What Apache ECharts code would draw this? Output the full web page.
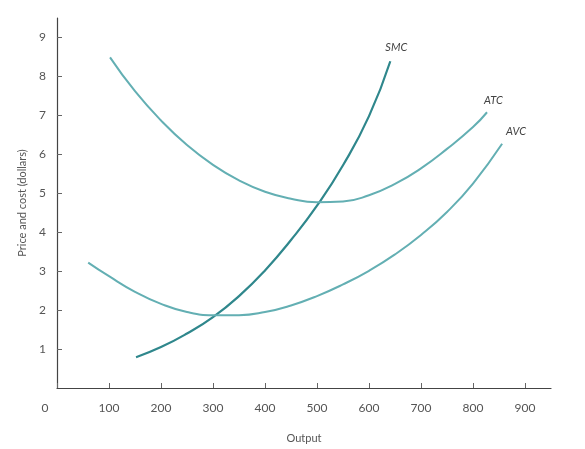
<!DOCTYPE html>
<html>
<head>
<meta charset="UTF-8">
<title>Cost curves</title>
<script src="https://cdn.jsdelivr.net/npm/echarts@6/dist/echarts.min.js"></script>
<style>
  html, body { margin: 0; padding: 0; background: #fff; }
  #main { width: 585px; height: 449px; }
</style>
</head>
<body>
<div id="main"></div>
<script>
// output levels and cost values
var smcOutput = [152, 200, 250, 300, 350, 400, 450, 500, 550, 600, 641];
var smcCost   = [0.79, 1.05, 1.40, 1.82, 2.36, 3.02, 3.80, 4.68, 5.72, 6.98, 8.39];

var atcOutput = [102, 150, 200, 250, 300, 350, 400, 450, 500, 550, 600, 650, 700, 750, 800, 827];
var atcCost   = [8.49, 7.62, 6.87, 6.24, 5.73, 5.33, 5.04, 4.86, 4.77, 4.79, 4.95, 5.24, 5.64, 6.14, 6.70, 7.08];

var avcOutput = [60, 100, 150, 200, 250, 300, 350, 400, 450, 500, 550, 600, 650, 700, 750, 800, 856];
var avcCost   = [3.22, 2.87, 2.47, 2.16, 1.95, 1.87, 1.87, 1.95, 2.12, 2.36, 2.66, 3.01, 3.43, 3.93, 4.52, 5.25, 6.27];

var curveNames = ['SMC', 'ATC', 'AVC'];

function pairs(xs, ys) {
  var out = [];
  for (var i = 0; i < xs.length; i++) out.push([xs[i], ys[i]]);
  return out;
}

var font = 'Lato, "Open Sans", sans-serif';
var textColor = '#555';

var myChart = echarts.init(document.getElementById('main'));

function curve(name, data, color, width, offset) {
  return {
    name: name,
    type: 'line',
    data: data,
    smooth: 0.5,
    showSymbol: false,
    silent: true,
    lineStyle: { color: color, width: width },
    endLabel: {
      show: true,
      formatter: name,
      distance: 0,
      offset: offset,
      color: '#444',
      fontSize: 11,
      fontStyle: 'italic',
      fontFamily: font
    }
  };
}

var option = {
  animation: false,
  grid: { left: 57, right: 34, top: 18, bottom: 59 },
  xAxis: {
    type: 'value',
    min: 0,
    max: 950,
    interval: 100,
    name: 'Output',
    nameLocation: 'middle',
    nameGap: 45,
    nameTextStyle: { color: textColor, fontSize: 11, fontFamily: font },
    axisLine: { lineStyle: { color: '#444', width: 1.2 } },
    axisTick: { inside: true, length: 5, lineStyle: { color: '#666' } },
    splitLine: { show: false },
    axisLabel: {
      showMaxLabel: false,
      margin: 14,
      color: textColor,
      fontSize: 12,
      fontFamily: font,
      formatter: function (v) { return v === 0 ? '{z|0}' : String(v); },
      rich: { z: { padding: [0, 24, 0, 0], color: textColor, fontSize: 12, fontFamily: font } }
    }
  },
  yAxis: {
    type: 'value',
    min: 0,
    max: 9.5,
    interval: 1,
    name: 'Price and cost (dollars)',
    nameLocation: 'middle',
    nameGap: 29,
    nameTextStyle: { color: textColor, fontSize: 11, fontFamily: font },
    axisLine: { show: true, lineStyle: { color: '#444', width: 1.2 } },
    axisTick: { show: true, inside: true, length: 5, lineStyle: { color: '#666' } },
    splitLine: { show: false },
    axisLabel: {
      showMinLabel: false,
      showMaxLabel: false,
      margin: 11,
      color: textColor,
      fontSize: 12,
      fontFamily: font
    }
  },
  series: [
    curve(curveNames[0], pairs(smcOutput, smcCost), '#2f878c', 2.2, [-5, -14]),
    curve(curveNames[1], pairs(atcOutput, atcCost), '#63afb3', 2, [-3, -12]),
    curve(curveNames[2], pairs(avcOutput, avcCost), '#63afb3', 2, [4, -12])
  ]
};

myChart.setOption(option);
</script>
</body>
</html>
